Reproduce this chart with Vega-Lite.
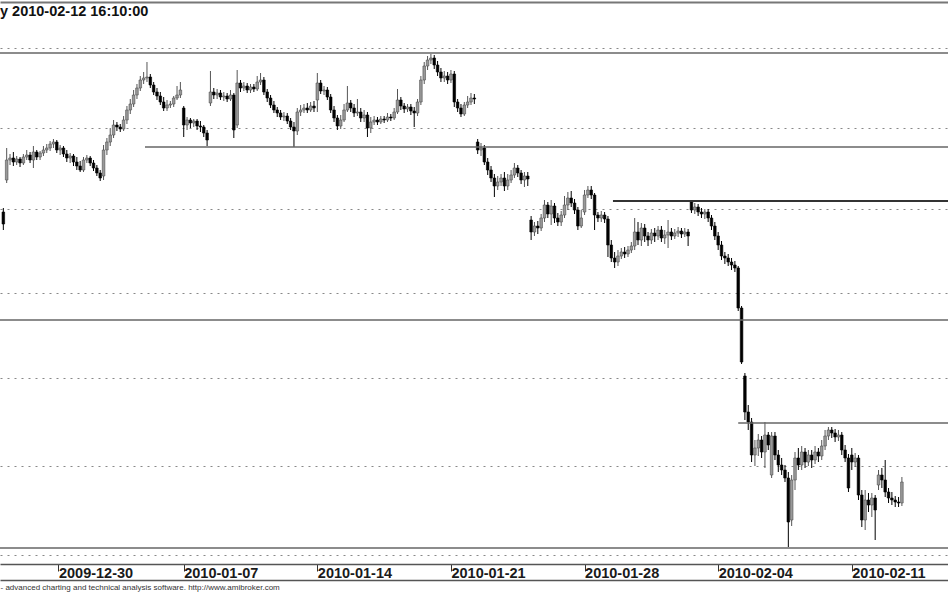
{
  "$schema": "https://vega.github.io/schema/vega-lite/v6.json",
  "width": 948,
  "height": 562,
  "autosize": {"type": "none"},
  "padding": {"left": 0, "top": 2, "right": 0, "bottom": 29},
  "background": "#ffffff",
  "config": {"view": {"stroke": null}},
  "datasets": {
    "bars": [
      {"i":1,"o":388,"h":392,"l":370,"c":376},
      {"i":2,"o":420,"h":452,"l":417,"c":440},
      {"i":3,"o":440,"h":446,"l":435,"c":442},
      {"i":4,"o":442,"h":448,"l":434,"c":438},
      {"i":5,"o":438,"h":444,"l":435,"c":441},
      {"i":6,"o":441,"h":443,"l":433,"c":437},
      {"i":7,"o":437,"h":446,"l":435,"c":443},
      {"i":8,"o":443,"h":450,"l":440,"c":445},
      {"i":9,"o":445,"h":448,"l":437,"c":440},
      {"i":10,"o":440,"h":454,"l":432,"c":448},
      {"i":11,"o":448,"h":450,"l":440,"c":443},
      {"i":12,"o":443,"h":449,"l":440,"c":447},
      {"i":13,"o":447,"h":454,"l":444,"c":450},
      {"i":14,"o":450,"h":456,"l":447,"c":452},
      {"i":15,"o":452,"h":459,"l":449,"c":456},
      {"i":16,"o":456,"h":461,"l":452,"c":458},
      {"i":17,"o":458,"h":460,"l":447,"c":450},
      {"i":18,"o":450,"h":455,"l":445,"c":452},
      {"i":19,"o":452,"h":454,"l":443,"c":446},
      {"i":20,"o":446,"h":450,"l":438,"c":442},
      {"i":21,"o":442,"h":447,"l":437,"c":444},
      {"i":22,"o":444,"h":446,"l":434,"c":438},
      {"i":23,"o":438,"h":443,"l":430,"c":434},
      {"i":24,"o":434,"h":439,"l":428,"c":430},
      {"i":25,"o":430,"h":443,"l":428,"c":440},
      {"i":26,"o":440,"h":445,"l":437,"c":442},
      {"i":27,"o":442,"h":444,"l":434,"c":437},
      {"i":28,"o":437,"h":440,"l":429,"c":432},
      {"i":29,"o":432,"h":435,"l":424,"c":427},
      {"i":30,"o":427,"h":430,"l":419,"c":422},
      {"i":31,"o":424,"h":455,"l":420,"c":450},
      {"i":32,"o":450,"h":462,"l":445,"c":458},
      {"i":33,"o":458,"h":472,"l":454,"c":465},
      {"i":34,"o":465,"h":480,"l":462,"c":475},
      {"i":35,"o":475,"h":478,"l":469,"c":473},
      {"i":36,"o":473,"h":476,"l":468,"c":471},
      {"i":37,"o":471,"h":484,"l":469,"c":480},
      {"i":38,"o":480,"h":494,"l":476,"c":490},
      {"i":39,"o":490,"h":501,"l":486,"c":496},
      {"i":40,"o":496,"h":510,"l":493,"c":505},
      {"i":41,"o":505,"h":516,"l":501,"c":512},
      {"i":42,"o":512,"h":524,"l":509,"c":520},
      {"i":43,"o":520,"h":528,"l":516,"c":522},
      {"i":44,"o":522,"h":538,"l":518,"c":523},
      {"i":45,"o":523,"h":526,"l":512,"c":515},
      {"i":46,"o":515,"h":518,"l":505,"c":508},
      {"i":47,"o":508,"h":512,"l":500,"c":504},
      {"i":48,"o":504,"h":508,"l":495,"c":498},
      {"i":49,"o":498,"h":503,"l":489,"c":492},
      {"i":50,"o":492,"h":500,"l":489,"c":495},
      {"i":51,"o":495,"h":499,"l":492,"c":496},
      {"i":52,"o":496,"h":504,"l":493,"c":502},
      {"i":53,"o":502,"h":514,"l":500,"c":505},
      {"i":54,"o":505,"h":518,"l":502,"c":510},
      {"i":55,"o":492,"h":494,"l":463,"c":475},
      {"i":56,"o":475,"h":483,"l":470,"c":480},
      {"i":57,"o":480,"h":482,"l":472,"c":477},
      {"i":58,"o":477,"h":481,"l":473,"c":479},
      {"i":59,"o":479,"h":481,"l":470,"c":474},
      {"i":60,"o":474,"h":479,"l":468,"c":473},
      {"i":61,"o":473,"h":475,"l":463,"c":467},
      {"i":62,"o":467,"h":470,"l":454,"c":460},
      {"i":63,"o":497,"h":529,"l":494,"c":508},
      {"i":64,"o":508,"h":512,"l":501,"c":505},
      {"i":65,"o":505,"h":511,"l":501,"c":507},
      {"i":66,"o":507,"h":510,"l":500,"c":503},
      {"i":67,"o":503,"h":508,"l":499,"c":504},
      {"i":68,"o":504,"h":507,"l":498,"c":501},
      {"i":69,"o":501,"h":510,"l":499,"c":505},
      {"i":70,"o":505,"h":507,"l":462,"c":470},
      {"i":71,"o":475,"h":530,"l":472,"c":517},
      {"i":72,"o":517,"h":520,"l":508,"c":512},
      {"i":73,"o":512,"h":518,"l":509,"c":514},
      {"i":74,"o":514,"h":517,"l":507,"c":510},
      {"i":75,"o":510,"h":516,"l":507,"c":513},
      {"i":76,"o":513,"h":516,"l":508,"c":511},
      {"i":77,"o":511,"h":524,"l":509,"c":518},
      {"i":78,"o":518,"h":527,"l":515,"c":520},
      {"i":79,"o":520,"h":523,"l":505,"c":508},
      {"i":80,"o":508,"h":511,"l":498,"c":502},
      {"i":81,"o":502,"h":505,"l":492,"c":495},
      {"i":82,"o":495,"h":499,"l":487,"c":490},
      {"i":83,"o":490,"h":493,"l":483,"c":487},
      {"i":84,"o":487,"h":490,"l":480,"c":483},
      {"i":85,"o":483,"h":488,"l":479,"c":484},
      {"i":86,"o":484,"h":487,"l":476,"c":479},
      {"i":87,"o":479,"h":482,"l":470,"c":473},
      {"i":88,"o":473,"h":478,"l":453,"c":469},
      {"i":89,"o":469,"h":492,"l":465,"c":488},
      {"i":90,"o":488,"h":495,"l":484,"c":490},
      {"i":91,"o":490,"h":496,"l":487,"c":492},
      {"i":92,"o":492,"h":497,"l":487,"c":490},
      {"i":93,"o":490,"h":498,"l":488,"c":494},
      {"i":94,"o":494,"h":499,"l":488,"c":492},
      {"i":95,"o":500,"h":527,"l":488,"c":517},
      {"i":96,"o":517,"h":520,"l":506,"c":509},
      {"i":97,"o":509,"h":514,"l":505,"c":510},
      {"i":98,"o":510,"h":513,"l":500,"c":503},
      {"i":99,"o":503,"h":506,"l":487,"c":490},
      {"i":100,"o":490,"h":494,"l":478,"c":482},
      {"i":101,"o":482,"h":485,"l":470,"c":474},
      {"i":102,"o":474,"h":485,"l":471,"c":480},
      {"i":103,"o":480,"h":496,"l":478,"c":490},
      {"i":104,"o":490,"h":514,"l":488,"c":497},
      {"i":105,"o":497,"h":500,"l":488,"c":492},
      {"i":106,"o":492,"h":496,"l":483,"c":487},
      {"i":107,"o":487,"h":501,"l":484,"c":488},
      {"i":108,"o":488,"h":492,"l":478,"c":482},
      {"i":109,"o":482,"h":490,"l":478,"c":485},
      {"i":110,"o":485,"h":488,"l":463,"c":472},
      {"i":111,"o":472,"h":483,"l":467,"c":478},
      {"i":112,"o":478,"h":484,"l":475,"c":480},
      {"i":113,"o":480,"h":483,"l":475,"c":478},
      {"i":114,"o":478,"h":484,"l":476,"c":481},
      {"i":115,"o":481,"h":484,"l":477,"c":480},
      {"i":116,"o":480,"h":487,"l":478,"c":483},
      {"i":117,"o":483,"h":486,"l":479,"c":482},
      {"i":118,"o":482,"h":492,"l":480,"c":488},
      {"i":119,"o":488,"h":511,"l":486,"c":500},
      {"i":120,"o":500,"h":503,"l":490,"c":494},
      {"i":121,"o":494,"h":497,"l":487,"c":491},
      {"i":122,"o":491,"h":496,"l":488,"c":493},
      {"i":123,"o":493,"h":496,"l":485,"c":489},
      {"i":124,"o":489,"h":493,"l":473,"c":487},
      {"i":125,"o":487,"h":501,"l":484,"c":498},
      {"i":126,"o":498,"h":524,"l":495,"c":520},
      {"i":127,"o":520,"h":538,"l":516,"c":534},
      {"i":128,"o":534,"h":544,"l":530,"c":540},
      {"i":129,"o":540,"h":546,"l":536,"c":542},
      {"i":130,"o":542,"h":545,"l":531,"c":535},
      {"i":131,"o":535,"h":539,"l":524,"c":528},
      {"i":132,"o":528,"h":532,"l":518,"c":522},
      {"i":133,"o":522,"h":529,"l":518,"c":524},
      {"i":134,"o":524,"h":528,"l":516,"c":520},
      {"i":135,"o":520,"h":530,"l":517,"c":526},
      {"i":136,"o":526,"h":529,"l":493,"c":498},
      {"i":137,"o":498,"h":501,"l":488,"c":492},
      {"i":138,"o":492,"h":496,"l":483,"c":486},
      {"i":139,"o":486,"h":498,"l":484,"c":495},
      {"i":140,"o":495,"h":504,"l":492,"c":498},
      {"i":141,"o":498,"h":507,"l":495,"c":502},
      {"i":142,"o":502,"h":506,"l":496,"c":501},
      {"i":143,"o":458,"h":461,"l":446,"c":450},
      {"i":144,"o":450,"h":457,"l":444,"c":452},
      {"i":145,"o":452,"h":455,"l":435,"c":438},
      {"i":146,"o":438,"h":442,"l":425,"c":430},
      {"i":147,"o":430,"h":434,"l":418,"c":422},
      {"i":148,"o":422,"h":426,"l":403,"c":414},
      {"i":149,"o":414,"h":424,"l":410,"c":418},
      {"i":150,"o":418,"h":426,"l":414,"c":422},
      {"i":151,"o":422,"h":428,"l":409,"c":414},
      {"i":152,"o":414,"h":426,"l":410,"c":420},
      {"i":153,"o":420,"h":430,"l":417,"c":425},
      {"i":154,"o":425,"h":437,"l":422,"c":432},
      {"i":155,"o":432,"h":435,"l":423,"c":427},
      {"i":156,"o":427,"h":430,"l":416,"c":420},
      {"i":157,"o":420,"h":428,"l":413,"c":424},
      {"i":158,"o":424,"h":428,"l":414,"c":421},
      {"i":159,"o":380,"h":384,"l":360,"c":368},
      {"i":160,"o":368,"h":378,"l":364,"c":374},
      {"i":161,"o":374,"h":379,"l":366,"c":372},
      {"i":162,"o":372,"h":386,"l":369,"c":382},
      {"i":163,"o":382,"h":400,"l":378,"c":395},
      {"i":164,"o":395,"h":398,"l":382,"c":386},
      {"i":165,"o":386,"h":400,"l":375,"c":394},
      {"i":166,"o":394,"h":397,"l":377,"c":382},
      {"i":167,"o":382,"h":387,"l":374,"c":378},
      {"i":168,"o":378,"h":389,"l":374,"c":385},
      {"i":169,"o":385,"h":404,"l":382,"c":395},
      {"i":170,"o":395,"h":408,"l":390,"c":402},
      {"i":171,"o":402,"h":409,"l":393,"c":397},
      {"i":172,"o":397,"h":401,"l":386,"c":390},
      {"i":173,"o":390,"h":393,"l":370,"c":374},
      {"i":174,"o":374,"h":390,"l":372,"c":382},
      {"i":175,"o":388,"h":410,"l":385,"c":405},
      {"i":176,"o":405,"h":414,"l":402,"c":410},
      {"i":177,"o":410,"h":414,"l":401,"c":405},
      {"i":178,"o":405,"h":407,"l":370,"c":385},
      {"i":179,"o":385,"h":388,"l":378,"c":382},
      {"i":180,"o":382,"h":389,"l":378,"c":385},
      {"i":181,"o":385,"h":388,"l":377,"c":381},
      {"i":182,"o":381,"h":384,"l":343,"c":355},
      {"i":183,"o":355,"h":360,"l":338,"c":342},
      {"i":184,"o":342,"h":348,"l":332,"c":338},
      {"i":185,"o":338,"h":350,"l":334,"c":344},
      {"i":186,"o":344,"h":352,"l":341,"c":348},
      {"i":187,"o":348,"h":353,"l":342,"c":346},
      {"i":188,"o":346,"h":354,"l":343,"c":350},
      {"i":189,"o":350,"h":358,"l":347,"c":354},
      {"i":190,"o":354,"h":382,"l":350,"c":368},
      {"i":191,"o":368,"h":378,"l":355,"c":360},
      {"i":192,"o":360,"h":377,"l":354,"c":372},
      {"i":193,"o":372,"h":376,"l":358,"c":364},
      {"i":194,"o":364,"h":368,"l":354,"c":360},
      {"i":195,"o":360,"h":371,"l":356,"c":367},
      {"i":196,"o":367,"h":372,"l":358,"c":364},
      {"i":197,"o":364,"h":374,"l":360,"c":370},
      {"i":198,"o":370,"h":374,"l":358,"c":362},
      {"i":199,"o":362,"h":370,"l":356,"c":365},
      {"i":200,"o":365,"h":380,"l":352,"c":368},
      {"i":201,"o":368,"h":372,"l":360,"c":364},
      {"i":202,"o":364,"h":371,"l":361,"c":367},
      {"i":203,"o":367,"h":373,"l":363,"c":369},
      {"i":204,"o":369,"h":372,"l":362,"c":366},
      {"i":205,"o":366,"h":372,"l":363,"c":368},
      {"i":206,"o":368,"h":371,"l":354,"c":364},
      {"i":207,"o":398,"h":400,"l":387,"c":390},
      {"i":208,"o":390,"h":397,"l":386,"c":393},
      {"i":209,"o":393,"h":396,"l":384,"c":388},
      {"i":210,"o":388,"h":392,"l":382,"c":386},
      {"i":211,"o":386,"h":391,"l":381,"c":388},
      {"i":212,"o":388,"h":391,"l":378,"c":382},
      {"i":213,"o":382,"h":385,"l":370,"c":374},
      {"i":214,"o":374,"h":378,"l":360,"c":364},
      {"i":215,"o":364,"h":368,"l":350,"c":355},
      {"i":216,"o":355,"h":359,"l":340,"c":344},
      {"i":217,"o":344,"h":348,"l":336,"c":342},
      {"i":218,"o":342,"h":346,"l":334,"c":338},
      {"i":219,"o":338,"h":342,"l":330,"c":335},
      {"i":220,"o":335,"h":339,"l":328,"c":332},
      {"i":221,"o":332,"h":334,"l":289,"c":292},
      {"i":222,"o":292,"h":294,"l":236,"c":238},
      {"i":223,"o":224,"h":227,"l":180,"c":188},
      {"i":224,"o":188,"h":195,"l":170,"c":178},
      {"i":225,"o":178,"h":182,"l":138,"c":145},
      {"i":226,"o":145,"h":160,"l":134,"c":152},
      {"i":227,"o":152,"h":166,"l":144,"c":160},
      {"i":228,"o":160,"h":164,"l":142,"c":148},
      {"i":229,"o":148,"h":178,"l":132,"c":165},
      {"i":230,"o":165,"h":168,"l":150,"c":155},
      {"i":231,"o":125,"h":168,"l":122,"c":164},
      {"i":232,"o":164,"h":168,"l":140,"c":145},
      {"i":233,"o":145,"h":150,"l":128,"c":135},
      {"i":234,"o":135,"h":142,"l":125,"c":130},
      {"i":235,"o":130,"h":135,"l":118,"c":122},
      {"i":236,"o":122,"h":128,"l":53,"c":78},
      {"i":237,"o":80,"h":125,"l":74,"c":120},
      {"i":238,"o":120,"h":148,"l":110,"c":142},
      {"i":239,"o":142,"h":152,"l":130,"c":135},
      {"i":240,"o":135,"h":154,"l":130,"c":148},
      {"i":241,"o":148,"h":152,"l":132,"c":138},
      {"i":242,"o":138,"h":150,"l":134,"c":145},
      {"i":243,"o":145,"h":150,"l":132,"c":140},
      {"i":244,"o":140,"h":154,"l":136,"c":148},
      {"i":245,"o":148,"h":152,"l":138,"c":144},
      {"i":246,"o":144,"h":160,"l":140,"c":154},
      {"i":247,"o":154,"h":170,"l":150,"c":164},
      {"i":248,"o":164,"h":173,"l":160,"c":170},
      {"i":249,"o":170,"h":173,"l":162,"c":167},
      {"i":250,"o":167,"h":171,"l":158,"c":163},
      {"i":251,"o":163,"h":170,"l":159,"c":165},
      {"i":252,"o":165,"h":168,"l":145,"c":150},
      {"i":253,"o":150,"h":155,"l":138,"c":142},
      {"i":254,"o":142,"h":146,"l":108,"c":112},
      {"i":255,"o":145,"h":152,"l":130,"c":138},
      {"i":256,"o":138,"h":147,"l":133,"c":142},
      {"i":257,"o":142,"h":145,"l":100,"c":105},
      {"i":258,"o":105,"h":110,"l":73,"c":80},
      {"i":259,"o":80,"h":110,"l":70,"c":100},
      {"i":260,"o":100,"h":107,"l":88,"c":95},
      {"i":261,"o":95,"h":107,"l":83,"c":102},
      {"i":262,"o":102,"h":105,"l":60,"c":90},
      {"i":263,"o":115,"h":130,"l":110,"c":125},
      {"i":264,"o":125,"h":132,"l":112,"c":120},
      {"i":265,"o":120,"h":140,"l":103,"c":108},
      {"i":266,"o":108,"h":112,"l":97,"c":102},
      {"i":267,"o":102,"h":108,"l":95,"c":100},
      {"i":268,"o":100,"h":104,"l":93,"c":98},
      {"i":269,"o":98,"h":103,"l":93,"c":97},
      {"i":270,"o":97,"h":123,"l":94,"c":118}
    ],
    "levels": [
      {"value":547,"start":0,"end":283.8},
      {"value":453,"start":43.4,"end":283.8},
      {"value":399,"start":183.5,"end":283.8},
      {"value":280,"start":0,"end":283.8},
      {"value":177,"start":221,"end":283.8},
      {"value":52,"start":0,"end":283.8}
    ]
  },
  "resolve": {"axis": {"x": "independent"}},
  "layer": [
    {
      "data": {"name": "bars"},
      "mark": {"type": "rule", "strokeWidth": 1},
      "encoding": {
        "x": {"field": "i", "type": "quantitative",
          "scale": {"domain": [0, 283.8], "nice": false, "zero": false, "padding": 0},
          "axis": {
            "orient": "bottom", "grid": false,
            "values": [17.5, 55, 95, 135, 175, 215, 255],
            "labelExpr": "datum.value == 17.5 ? '2009-12-30' : datum.value == 55 ? '2010-01-07' : datum.value == 95 ? '2010-01-14' : datum.value == 135 ? '2010-01-21' : datum.value == 175 ? '2010-01-28' : datum.value == 215 ? '2010-02-04' : '2010-02-11'",
            "labelAlign": "left", "labelBaseline": "top", "labelDx": 3, "labelPadding": -5,
            "labelFont": "Liberation Sans", "labelFontSize": 14.5, "labelFontWeight": "bold", "labelColor": "#1a1a1a",
            "labelOverlap": false, "labelFlush": false, "labelBound": false,
            "tickSize": 7, "tickColor": "#333333", "tickWidth": 1,
            "domainColor": "#555555", "domainWidth": 1.5,
            "title": "- advanced charting and technical analysis software. http://www.amibroker.com",
            "titleFont": "Liberation Sans", "titleFontSize": 8, "titleFontWeight": "normal",
            "titleColor": "#333333", "titleAnchor": "start", "titleAlign": "left",
            "titleBaseline": "middle", "titleX": 0, "titleY": 23
          }
        },
        "y": {"field": "l", "type": "quantitative",
          "scale": {"domain": [36, 598], "nice": false, "zero": false},
          "axis": {
            "title": null, "labels": false, "ticks": false, "domain": false,
            "grid": true, "gridDash": [2, 5], "gridColor": "#888888", "gridWidth": 1,
            "values": [552, 472, 391, 307, 222, 134, 45]
          }
        },
        "y2": {"field": "h"},
        "color": {"condition": {"test": "datum.c > datum.o", "value": "#555555"}, "value": "#000000"}
      }
    },
    {
      "data": {"name": "bars"},
      "mark": {"type": "bar", "width": 2.6, "strokeWidth": 0.6},
      "encoding": {
        "x": {"field": "i", "type": "quantitative",
          "axis": {"orient": "bottom", "offset": 16, "labels": false, "ticks": false, "grid": false,
            "domainColor": "#555555", "domainWidth": 1.5, "title": null}
        },
        "y": {"field": "o", "type": "quantitative",
          "axis": {
            "title": null, "labels": false, "ticks": false, "domain": false,
            "grid": true, "gridDash": [2, 5], "gridColor": "#888888", "gridWidth": 1,
            "values": [552, 472, 391, 307, 222, 134, 45]
          }
        },
        "y2": {"field": "c"},
        "fill": {"condition": {"test": "datum.c > datum.o", "value": "#999999"}, "value": "#000000"},
        "stroke": {"condition": {"test": "datum.c > datum.o", "value": "#4d4d4d"}, "value": "#000000"}
      }
    },
    {
      "data": {"name": "levels"},
      "mark": {"type": "rule"},
      "encoding": {
        "x": {"field": "start", "type": "quantitative",
          "axis": {"orient": "top", "labels": false, "ticks": false, "grid": false,
            "domainColor": "#777777", "domainWidth": 2, "title": null}
        },
        "x2": {"field": "end"},
        "y": {"field": "value", "type": "quantitative",
          "axis": {
            "title": null, "labels": false, "ticks": false, "domain": false,
            "grid": true, "gridDash": [2, 5], "gridColor": "#888888", "gridWidth": 1,
            "values": [552, 472, 391, 307, 222, 134, 45]
          }
        },
        "color": {"condition": {"test": "datum.value == 399", "value": "#333333"}, "value": "#666666"},
        "strokeWidth": {"condition": {"test": "datum.value == 399", "value": 2.2}, "value": 1.4}
      }
    },
    {
      "data": {"values": [{"label": "y 2010-02-12 16:10:00"}]},
      "mark": {"type": "text", "align": "left", "baseline": "alphabetic", "dy": 13.5,
        "font": "Liberation Sans", "fontSize": 14.5, "fontWeight": "bold", "color": "#111111"},
      "encoding": {
        "x": {"datum": 0, "type": "quantitative", "axis": null},
        "y": {"datum": 598, "type": "quantitative",
          "axis": {
            "title": null, "labels": false, "ticks": false, "domain": false,
            "grid": true, "gridDash": [2, 5], "gridColor": "#888888", "gridWidth": 1,
            "values": [552, 472, 391, 307, 222, 134, 45]
          }
        },
        "text": {"field": "label"}
      }
    }
  ]
}
